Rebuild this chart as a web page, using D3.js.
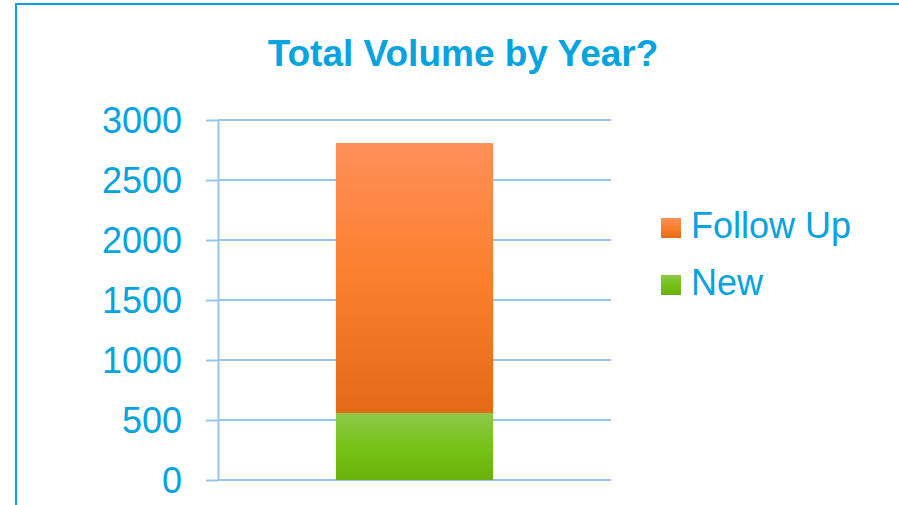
<!DOCTYPE html>
<html>
<head>
<meta charset="utf-8">
<script src="https://cdn.jsdelivr.net/npm/d3@7"></script>
<style>
  body { margin: 0; background: #fff; }
  text { font-family: "Liberation Sans", Arial, sans-serif; }
</style>
</head>
<body>
<svg id="chart" width="899" height="505"></svg>
<script>
// data
const categories = ["Total"];
const seriesNames = ["New", "Follow Up"];
const newValues = [558];
const followUpValues = [2250];
const yTicks = [0, 500, 1000, 1500, 2000, 2500, 3000];

const blue = "#05a3e0";
const gridColor = "#98c4ea";

const svg = d3.select("#chart");
const defs = svg.append("defs");

// Excel-ish vertical gradients
const gradients = {
    "Follow Up": ["#ff8f5a", "#fb7f2c", "#e56a17"],
    "New": ["#8cc84b", "#77c216", "#6ab20b"]
};
Object.entries(gradients).forEach(([name, stops]) => {
    const g = defs.append("linearGradient")
        .attr("id", "grad-" + name.replace(/\s/g, ""))
        .attr("x1", 0).attr("y1", 0).attr("x2", 0).attr("y2", 1);
    stops.forEach((c, i) => {
        g.append("stop").attr("offset", (i / (stops.length - 1) * 100) + "%").attr("stop-color", c);
    });
});

// outer frame (only top and left edges are inside the window)
svg.append("rect")
    .attr("x", 16).attr("y", 4)
    .attr("width", 1000).attr("height", 1000)
    .attr("fill", "none")
    .attr("stroke", blue)
    .attr("stroke-width", 2);

const plotLeft = 218, plotRight = 611;

const x = d3.scaleBand().domain(categories)
    .range([plotLeft, plotRight])
    .paddingInner(0).paddingOuter(0.75);

const y = d3.scaleLinear().domain([0, 3000]).range([480, 120]);

// gridlines
svg.append("g").selectAll("line")
    .data(yTicks).join("line")
    .attr("x1", plotLeft).attr("x2", plotRight)
    .attr("y1", d => y(d)).attr("y2", d => y(d))
    .attr("stroke", gridColor)
    .attr("stroke-width", 2);

// axis with ticks and labels
const axis = svg.append("g")
    .attr("transform", `translate(${plotLeft},0)`)
    .call(d3.axisLeft(y).tickValues(yTicks).tickFormat(d3.format("d"))
        .tickSize(12).tickSizeOuter(0).tickPadding(24));
axis.select(".domain").attr("stroke", gridColor).attr("stroke-width", 2);
axis.selectAll(".tick line").attr("stroke", gridColor).attr("stroke-width", 2);
axis.selectAll(".tick text")
    .attr("fill", blue)
    .attr("font-size", "36px")
    .attr("font-family", "Liberation Sans, Arial, sans-serif")
    .attr("dy", "0.36em");

// stacked bar
const table = categories.map((c, i) => ({ cat: c, "New": newValues[i], "Follow Up": followUpValues[i] }));
const stacked = d3.stack().keys(seriesNames)(table);

svg.append("g").selectAll("g")
    .data(stacked).join("g")
    .attr("fill", d => `url(#grad-${d.key.replace(/\s/g, "")})`)
    .selectAll("rect")
    .data(d => d).join("rect")
    .attr("x", d => x(d.data.cat))
    .attr("width", x.bandwidth())
    .attr("y", d => y(d[1]))
    .attr("height", d => y(d[0]) - y(d[1]));

// title
svg.append("text")
    .attr("x", 463).attr("y", 66)
    .attr("text-anchor", "middle")
    .attr("fill", blue)
    .attr("font-size", "37px")
    .attr("font-weight", "bold")
    .text("Total Volume by Year?");

// legend (Follow Up listed first, like the original)
const legendItems = ["Follow Up", "New"];
const legend = svg.append("g").selectAll("g")
    .data(legendItems).join("g")
    .attr("transform", (d, i) => `translate(661,${218 + i * 57})`);
legend.append("rect")
    .attr("width", 20).attr("height", 20)
    .attr("fill", d => `url(#grad-${d.replace(/\s/g, "")})`);
legend.append("text")
    .attr("x", 30).attr("y", 20)
    .attr("fill", blue)
    .attr("font-size", "36px")
    .text(d => d);
</script>
</body>
</html>
